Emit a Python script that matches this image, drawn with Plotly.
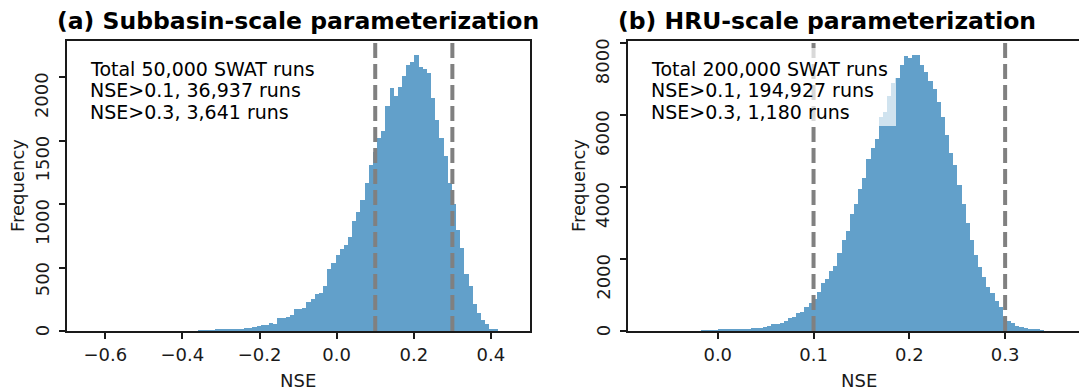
import plotly.graph_objects as go

W, H = 1079, 390

# ---------------- data ----------------
# Panel (a): subbasin-scale, 100 histogram bins (far-left tail bins are invisible -> 0)
a_bin_start = -0.661
a_bin_width = 0.010775
a_counts = [0, 0, 0, 0, 0, 0, 0, 0, 0, 0, 0, 0, 0, 0, 0, 0, 0, 0, 0, 0,
            0, 0, 0, 0, 0, 0, 0, 0, 3, 6, 6, 7, 8, 8, 10, 10, 11, 12, 12, 24,
            26, 28, 42, 45, 48, 66, 58, 100, 105, 110, 126, 170, 176, 182, 229, 255, 292, 302, 358, 490,
            535, 600, 650, 680, 740, 864, 940, 1032, 1167, 1311, 1409, 1522, 1580, 1778, 1917, 1857, 1928, 2009, 2094, 2120,
            2178, 2085, 2070, 2035, 1835, 1667, 1519, 1383, 1164, 1001, 795, 658, 448, 355, 211, 145, 84, 53, 18, 8]
a_xticks = [-0.6, -0.4, -0.2, 0.0, 0.2, 0.4]
a_yticks = [0, 500, 1000, 1500, 2000]
a_xrange = [-0.7, 0.5]
a_title = "(a) Subbasin-scale parameterization"
a_text = ["Total 50,000 SWAT runs", "NSE>0.1, 36,937 runs", "NSE>0.3, 3,641 runs"]

# Panel (b): HRU-scale, 100 histogram bins (far tail bins are invisible -> 0)
b_bin_start = -0.0868
b_bin_width = 0.004316
b_counts = [0, 0, 0, 0, 0, 0, 0, 0, 0, 0, 0, 0, 0, 0, 0, 0, 15, 18, 22, 25,
            30, 35, 40, 45, 50, 55, 60, 65, 70, 80, 90, 100, 150, 185, 200, 213, 278, 360, 395, 490,
            537, 676, 769, 880, 1093, 1324, 1435, 1667, 1815, 2157, 2527, 2777, 3268, 3546, 3963, 4268, 4796, 5093, 5352, 5950,
            6100, 6528, 6898, 7047, 7389, 7648, 7602, 7667, 7685, 7389, 7205, 6954, 6741, 6371, 5954, 5463, 4954, 4611, 4056, 3546,
            3009, 2528, 2111, 1787, 1491, 1213, 1046, 833, 676, 398, 278, 213, 148, 120, 93, 65, 50, 30, 10, 0]
b_xticks = [0.0, 0.1, 0.2, 0.3]
b_yticks = [0, 2000, 4000, 6000, 8000]
b_xrange = [-0.094, 0.3886]
b_title = "(b) HRU-scale parameterization"
b_text = ["Total 200,000 SWAT runs", "NSE>0.1, 194,927 runs", "NSE>0.3, 1,180 runs"]

thresholds = [0.1, 0.3]

# ---------------- style ----------------
FONT = "DejaVu Sans"
BAR = "rgb(98,160,202)"
INK = "#1a1a1a"


def px(x):
    return x / W


def py(y):
    return 1 - y / H


fig = go.Figure()

a_centers = [a_bin_start + (i + 0.5) * a_bin_width for i in range(len(a_counts))]
b_centers = [b_bin_start + (i + 0.5) * b_bin_width for i in range(len(b_counts))]

fig.add_trace(go.Bar(x=a_centers, y=a_counts, width=a_bin_width, marker=dict(color=BAR, line=dict(width=0)),
                     xaxis="x", yaxis="y", showlegend=False, hoverinfo="skip"))
fig.add_trace(go.Bar(x=b_centers, y=b_counts, width=b_bin_width, marker=dict(color=BAR, line=dict(width=0)),
                     xaxis="x2", yaxis="y2", showlegend=False, hoverinfo="skip"))

ydom = [py(331), py(41)]
a_dom = [px(66.7), px(529.5)]
b_dom = [px(627.7), 1.0]

# right panel axes extend past the picture edge
b_range_right = b_xrange[0] + (b_xrange[1] - b_xrange[0]) * (W - 627.7) / (1090 - 627.7)

common_x = dict(showgrid=False, zeroline=False, ticks="outside", ticklen=6, tickwidth=1.6, tickcolor=INK,
                showline=True, linecolor=INK, linewidth=2, tickformat=".1f",
                tickfont=dict(family=FONT, size=18, color=INK))
common_y = dict(showgrid=False, zeroline=False, ticks="outside", ticklen=6, tickwidth=1.6, tickcolor=INK,
                showline=True, linecolor=INK, linewidth=2, showticklabels=False)

fig.update_layout(
    width=W, height=H, margin=dict(l=0, r=0, t=0, b=0),
    paper_bgcolor="white", plot_bgcolor="white", bargap=0, barmode="overlay",
    xaxis=dict(common_x, domain=a_dom, range=a_xrange, tickvals=a_xticks, mirror=True, anchor="y"),
    yaxis=dict(common_y, domain=ydom, range=[0, 1.05 * max(a_counts)], tickvals=a_yticks, mirror=True, anchor="x"),
    xaxis2=dict(common_x, domain=b_dom, range=[b_xrange[0], b_range_right], tickvals=b_xticks, mirror=True, anchor="y2"),
    yaxis2=dict(common_y, domain=ydom, range=[0, 1.05 * max(b_counts)], tickvals=b_yticks, mirror=False, anchor="x2"),
)

shapes = []
for xr, yr in (("x", "y domain"), ("x2", "y2 domain")):
    for t in thresholds:
        shapes.append(dict(type="line", xref=xr, yref=yr, x0=t, x1=t, y0=0, y1=1, layer="above",
                           line=dict(color="rgb(128,128,128)", width=4, dash="15px,6px")))
# semi-transparent white text boxes
for x0, x1 in ((84, 322), (645, 896)):
    shapes.append(dict(type="rect", xref="paper", yref="paper", x0=px(x0), x1=px(x1), y0=py(126), y1=py(48),
                       layer="above", line=dict(width=0), fillcolor="rgba(255,255,255,0.7)"))
fig.update_layout(shapes=shapes)

ann = []
# titles
for cx, t in ((297.5, a_title), (827, b_title)):
    ann.append(dict(x=px(cx), y=py(21), xref="paper", yref="paper", text=f"<b>{t}</b>", showarrow=False,
                    xanchor="center", yanchor="middle", font=dict(family=FONT, size=23.5, color="black")))
# stats text
for x0, lines in ((88, a_text), (649, b_text)):
    for i, line in enumerate(lines):
        ann.append(dict(x=px(x0), y=py(69.1 + 21.3 * i), xref="paper", yref="paper", text=line, showarrow=False,
                        xanchor="left", yanchor="middle", font=dict(family=FONT, size=19, color="black")))
# axis titles
for cx in (298, 859):
    ann.append(dict(x=px(cx), y=py(380), xref="paper", yref="paper", text="NSE", showarrow=False,
                    xanchor="center", yanchor="middle", font=dict(family=FONT, size=18, color=INK)))
for cx in (17, 578):
    ann.append(dict(x=px(cx), y=py(186), xref="paper", yref="paper", text="Frequency", showarrow=False,
                    textangle=-90, xanchor="center", yanchor="middle", font=dict(family=FONT, size=18, color=INK)))
# rotated y tick labels (matplotlib-style placement)
for dom, yref, ticks in ((a_dom, "y", a_yticks), (b_dom, "y2", b_yticks)):
    for v in ticks:
        ann.append(dict(x=dom[0], y=v, xref="paper", yref=yref, text=str(v), showarrow=False,
                        textangle=-90, xanchor="right", yanchor="top", xshift=-13, yshift=6.5, borderpad=0,
                        font=dict(family=FONT, size=18, color=INK)))
fig.update_layout(annotations=ann)

fig.write_html("out.html")
